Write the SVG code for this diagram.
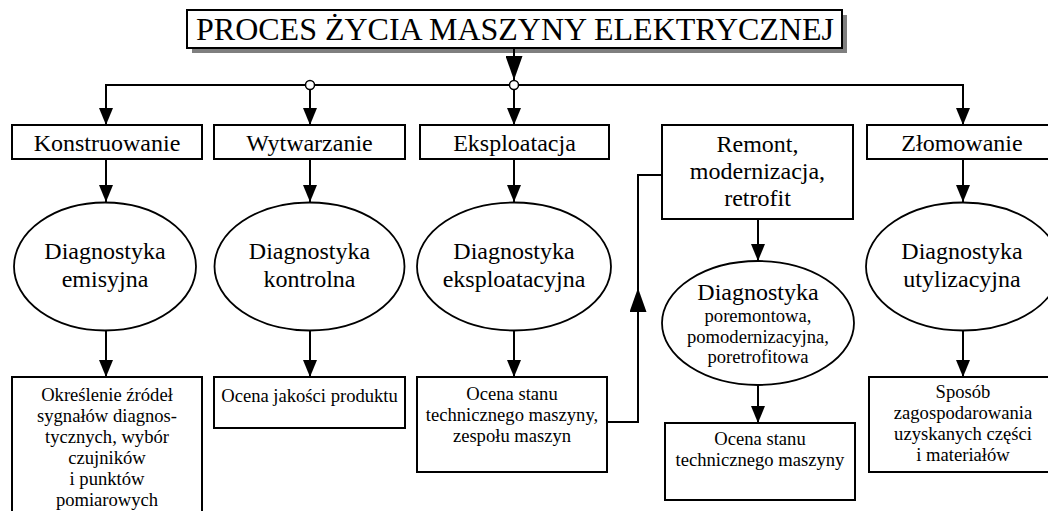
<svg xmlns="http://www.w3.org/2000/svg" width="1048" height="511" viewBox="0 0 1048 511" font-family="Liberation Serif, serif">
<defs>
<marker id="ah" markerUnits="userSpaceOnUse" viewBox="0 0 17 14" refX="17" refY="7" markerWidth="17" markerHeight="14" orient="auto"><path d="M0,0 L17,7 L0,14 z" fill="#000"/></marker>
<marker id="ahL" markerUnits="userSpaceOnUse" viewBox="0 0 24 17" refX="24" refY="8.5" markerWidth="24" markerHeight="17" orient="auto"><path d="M0,0 L24,8.5 L0,17 z" fill="#000"/></marker>
<style>
.b{fill:#fff;stroke:#000;stroke-width:2}
.e{fill:#fff;stroke:#000;stroke-width:1.8}
.c{fill:none;stroke:#000;stroke-width:2}
text{font-family:'Liberation Serif',serif;text-anchor:middle;fill:#000}
.l{font-size:24px}
.s{font-size:18.6px}
</style>
</defs>
<g id="title">
<rect x="192" y="15" width="655" height="38" fill="#7f7f7f"/>
<rect class="b" x="187" y="10" width="655" height="38"/>
<text x="515" y="40" font-size="32">PROCES ŻYCIA MASZYNY ELEKTRYCZNEJ</text>
</g>
<g id="connectors">
<path class="c" d="M514,48 V80" marker-end="url(#ahL)"/>
<path class="c" d="M106,125 V85 H963 V125" marker-end="url(#ah)"/>
<path class="c" d="M106,85 V125" marker-end="url(#ah)"/>
<path class="c" d="M310,89.5 V125" marker-end="url(#ah)"/>
<path class="c" d="M514,89.5 V125" marker-end="url(#ah)"/>
<circle cx="310" cy="85" r="4.5" fill="#fff" stroke="#000" stroke-width="1.5"/>
<circle cx="514" cy="85" r="4.5" fill="#fff" stroke="#000" stroke-width="1.5"/>
<path class="c" d="M106,159 V202" marker-end="url(#ah)"/>
<path class="c" d="M310,159 V202" marker-end="url(#ah)"/>
<path class="c" d="M514,159 V202" marker-end="url(#ah)"/>
<path class="c" d="M963,159 V202" marker-end="url(#ah)"/>
<path class="c" d="M106,330 V377" marker-end="url(#ah)"/>
<path class="c" d="M310,330 V377" marker-end="url(#ah)"/>
<path class="c" d="M514,330 V377" marker-end="url(#ah)"/>
<path class="c" d="M963,330 V377" marker-end="url(#ah)"/>
<path class="c" d="M758,219 V261" marker-end="url(#ah)"/>
<path class="c" d="M758,385 V423" marker-end="url(#ah)"/>
<path class="c" d="M607,422 H638 V288" marker-end="url(#ahL)"/>
<path class="c" d="M638,300 V175 H662"/>
</g>
<g id="konstruowanie">
<rect class="b" x="12" y="125" width="190" height="34"/>
<text class="l" x="107" y="151">Konstruowanie</text>
</g>
<g id="wytwarzanie">
<rect class="b" x="214" y="125" width="191" height="34"/>
<text class="l" x="309.5" y="151">Wytwarzanie</text>
</g>
<g id="eksploatacja">
<rect class="b" x="420" y="125" width="189" height="34"/>
<text class="l" x="514.5" y="151">Eksploatacja</text>
</g>
<g id="remont">
<rect class="b" x="662" y="125" width="191" height="94"/>
<text class="l" x="757.5" y="152">Remont,</text>
<text class="l" x="757.5" y="179">modernizacja,</text>
<text class="l" x="757.5" y="206">retrofit</text>
</g>
<g id="zlomowanie">
<rect class="b" x="867" y="125" width="192" height="34"/>
<text class="l" x="962" y="151">Złomowanie</text>
</g>
<g id="diag-emisyjna">
<ellipse class="e" cx="105" cy="266.5" rx="91" ry="64"/>
<text class="l" x="105" y="259">Diagnostyka</text>
<text class="l" x="105" y="287">emisyjna</text>
</g>
<g id="diag-kontrolna">
<ellipse class="e" cx="309.5" cy="266.5" rx="95" ry="64"/>
<text class="l" x="309.5" y="259">Diagnostyka</text>
<text class="l" x="309.5" y="287">kontrolna</text>
</g>
<g id="diag-eksploatacyjna">
<ellipse class="e" cx="514" cy="266.5" rx="97" ry="64"/>
<text class="l" x="514" y="259">Diagnostyka</text>
<text class="l" x="514" y="287">eksploatacyjna</text>
</g>
<g id="diag-poremontowa">
<ellipse class="e" cx="758" cy="323" rx="96" ry="62"/>
<text class="l" x="758" y="300">Diagnostyka</text>
<text class="s" x="758" y="322">poremontowa,</text>
<text class="s" x="758" y="342.5">pomodernizacyjna,</text>
<text class="s" x="758" y="363">poretrofitowa</text>
</g>
<g id="diag-utylizacyjna">
<ellipse class="e" cx="963" cy="266.5" rx="97" ry="64"/>
<text class="l" x="962" y="259">Diagnostyka</text>
<text class="l" x="962" y="287">utylizacyjna</text>
</g>
<g id="okreslenie">
<rect class="b" x="12" y="377" width="190" height="145"/>
<text class="s" x="107" y="401">Określenie źródeł</text>
<text class="s" x="107" y="422">sygnałów diagnos-</text>
<text class="s" x="107" y="443">tycznych, wybór</text>
<text class="s" x="107" y="464">czujników</text>
<text class="s" x="107" y="485">i punktów</text>
<text class="s" x="107" y="506">pomiarowych</text>
</g>
<g id="ocena-jakosci">
<rect class="b" x="214" y="377" width="191" height="51"/>
<text class="s" x="309.5" y="402">Ocena jakości produktu</text>
</g>
<g id="ocena-stanu-zespolu">
<rect class="b" x="417" y="377" width="190" height="95"/>
<text class="s" x="512" y="400">Ocena stanu</text>
<text class="s" x="512" y="421">technicznego maszyny,</text>
<text class="s" x="512" y="442">zespołu maszyn</text>
</g>
<g id="ocena-stanu-maszyny">
<rect class="b" x="665" y="423" width="190" height="77"/>
<text class="s" x="760" y="445">Ocena stanu</text>
<text class="s" x="760" y="466">technicznego maszyny</text>
</g>
<g id="sposob">
<rect class="b" x="869" y="377" width="192" height="95"/>
<text class="s" x="963" y="398">Sposób</text>
<text class="s" x="963" y="419">zagospodarowania</text>
<text class="s" x="963" y="440">uzyskanych części</text>
<text class="s" x="963" y="461">i materiałów</text>
</g>
</svg>
